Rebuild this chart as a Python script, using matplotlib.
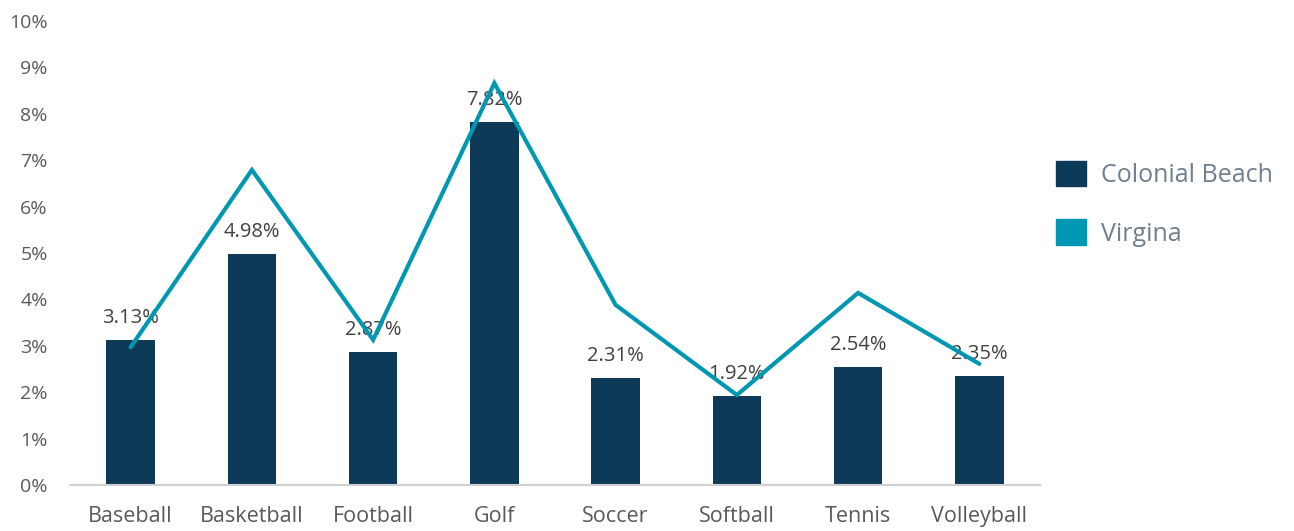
import matplotlib.pyplot as plt
from matplotlib.patches import Patch
from matplotlib.ticker import FuncFormatter

plt.rcParams['font.family'] = ['Open Sans', 'DejaVu Sans']

# Sport participation share
sports = ['Baseball', 'Basketball', 'Football', 'Golf', 'Soccer', 'Softball', 'Tennis', 'Volleyball']
colonial_beach = [3.13, 4.98, 2.87, 7.82, 2.31, 1.92, 2.54, 2.35]
virginia = [2.97, 6.79, 3.13, 8.66, 3.88, 1.94, 4.14, 2.61]

bar_color = '#0e3a5a'
line_color = '#0097b2'

fig = plt.figure(figsize=(12.94, 5.31), dpi=100)
ax = fig.add_axes([0.0541, 0.0866, 0.7496, 0.8739])

x = range(len(sports))
ax.bar(x, colonial_beach, width=0.40, color=bar_color, zorder=2)
ax.plot(x, virginia, color=line_color, lw=3, solid_capstyle='round',
        solid_joinstyle='miter', zorder=4)

for xi, v in zip(x, colonial_beach):
    ax.text(xi, v + 0.26, f'{v:.2f}%', ha='center', va='bottom',
            fontsize=14.5, color='#404040', zorder=3)

ax.set_xlim(-0.5, len(sports) - 0.5)
ax.set_ylim(0, 10)
ax.set_yticks(range(0, 11))
ax.yaxis.set_major_formatter(FuncFormatter(lambda v, _: f'{v:.0f}%'))
ax.set_xticks(list(x))
ax.set_xticklabels(sports)

for s in ['top', 'right', 'left']:
    ax.spines[s].set_visible(False)
ax.spines['bottom'].set_color('#d0d0d0')
ax.spines['bottom'].set_linewidth(1.5)
ax.tick_params(axis='both', length=0, colors='#595959')
ax.tick_params(axis='y', pad=16, labelsize=14)
ax.tick_params(axis='x', pad=15, labelsize=15.5)

handles = [Patch(color=bar_color, label='Colonial Beach'),
           Patch(color=line_color, label='Virgina')]
leg = fig.legend(handles=handles, loc='upper left', bbox_to_anchor=(0.799, 0.74),
                 frameon=False, fontsize=18, handlelength=1.2, handleheight=1.2,
                 handletextpad=0.6, labelspacing=1.26, labelcolor='#6e7f8f')

fig.savefig('out.png', dpi=100)
